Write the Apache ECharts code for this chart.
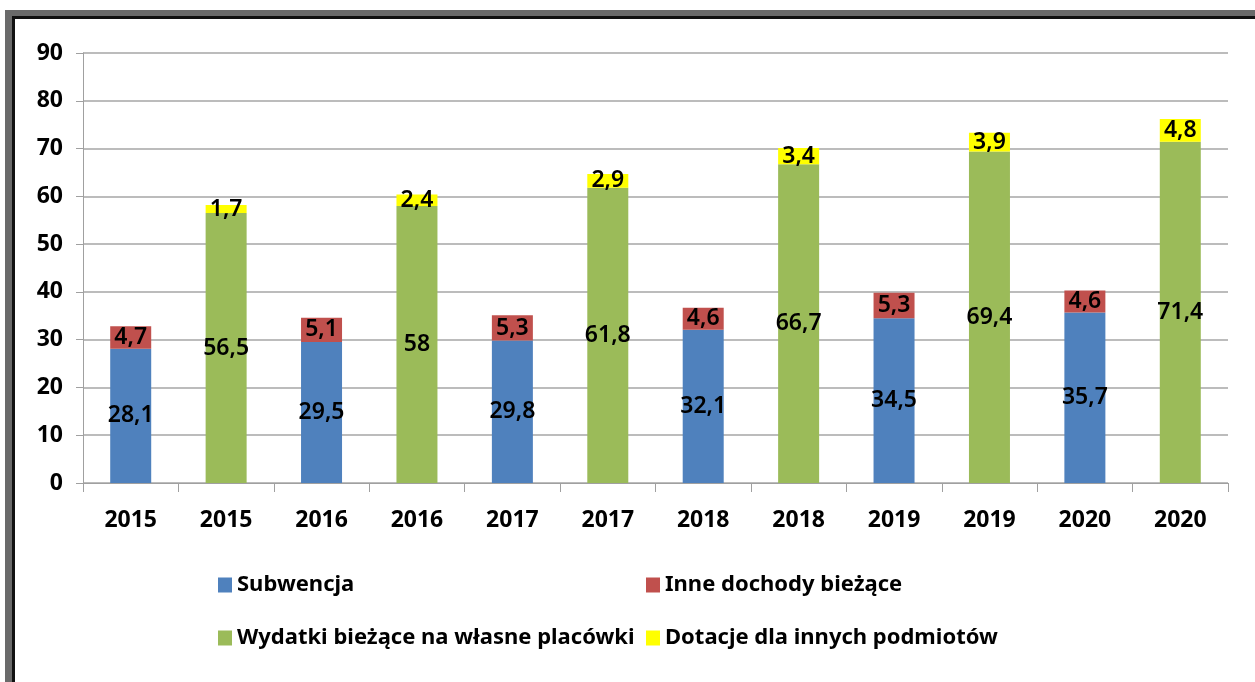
<!DOCTYPE html>
<html>
<head>
<meta charset="utf-8">
<script src="https://cdn.jsdelivr.net/npm/echarts@6/dist/echarts.min.js"></script>
<style>
html, body { margin: 0; padding: 0; background: #fff; overflow: hidden; }
#frame { position: absolute; left: 5px; top: 10px; width: 1270px; height: 668px;
  border-top: 6px solid #6a6a6a; border-left: 7px solid #6a6a6a; border-bottom: 2px solid #9a9a9a; }
#frameIn { position: absolute; left: 0; top: 0; right: 0; bottom: 0;
  border-top: 3px solid #111; border-left: 3px solid #111; }
#main { position: absolute; left: 0; top: 0; width: 1255px; height: 682px; }
</style>
</head>
<body>
<div id="frame"><div id="frameIn"></div></div>
<div id="main"></div>
<script>
var categories = ['2015', '2015', '2016', '2016', '2017', '2017', '2018', '2018', '2019', '2019', '2020', '2020'];
var subwencja = [28.1, 29.5, 29.8, 32.1, 34.5, 35.7];
var inneDochody = [4.7, 5.1, 5.3, 4.6, 5.3, 4.6];
var wydatki = [56.5, 58, 61.8, 66.7, 69.4, 71.4];
var dotacje = [1.7, 2.4, 2.9, 3.4, 3.9, 4.8];
var yTicks = [0, 10, 20, 30, 40, 50, 60, 70, 80, 90];

var font = '"Noto Sans", sans-serif';

// first pair goes on even slots, second pair on odd slots
function spread(vals, offset) {
    var out = [];
    for (var i = 0; i < categories.length; i++) out.push('-');
    vals.forEach(function (v, i) { out[i * 2 + offset] = v; });
    return out;
}

function bar(name, vals, offset, color) {
    return {
        name: name,
        type: 'bar',
        stack: 'all',
        barWidth: 41,
        data: spread(vals, offset),
        itemStyle: { color: color },
        label: {
            show: true,
            position: 'inside',
            color: '#000',
            fontFamily: font,
            fontSize: 23,
            fontWeight: 600,
            formatter: function (p) { return String(p.value).replace('.', ','); }
        }
    };
}

function legendItem(name, left, top) {
    return {
        data: [name],
        left: left,
        top: top,
        padding: 0,
        icon: 'rect',
        itemWidth: 14,
        itemHeight: 15,
        selectedMode: false,
        textStyle: { fontFamily: font, fontSize: 22, fontWeight: 'bold', color: '#000' }
    };
}

var myChart = echarts.init(document.getElementById('main'));
var option = {
    backgroundColor: 'transparent',
    animation: false,
    grid: { left: 83, right: 27, top: 53, bottom: 199 },
    xAxis: {
        type: 'category',
        data: categories,
        axisLine: { lineStyle: { color: '#a0a0a0', width: 1 } },
        axisTick: { show: true, length: 9, lineStyle: { color: '#a0a0a0' } },
        axisLabel: { color: '#000', fontFamily: font, fontSize: 23, fontWeight: 'bold', margin: 26 }
    },
    yAxis: {
        type: 'value',
        min: yTicks[0],
        max: yTicks[yTicks.length - 1],
        interval: 10,
        axisLine: { show: true, lineStyle: { color: '#a0a0a0', width: 1 } },
        axisTick: { show: true, length: 7, lineStyle: { color: '#a0a0a0' } },
        axisLabel: { color: '#000', fontFamily: font, fontSize: 23, fontWeight: 'bold', margin: 20 },
        splitLine: { lineStyle: { color: '#a6a6a6', width: 1.5 } }
    },
    legend: [
        legendItem('Subwencja', 218, 574),
        legendItem('Inne dochody bieżące', 646, 574),
        legendItem('Wydatki bieżące na własne placówki', 218, 627),
        legendItem('Dotacje dla innych podmiotów', 646, 627)
    ],
    series: [
        bar('Subwencja', subwencja, 0, '#4f81bd'),
        bar('Inne dochody bieżące', inneDochody, 0, '#c0504d'),
        bar('Wydatki bieżące na własne placówki', wydatki, 1, '#9bbb59'),
        bar('Dotacje dla innych podmiotów', dotacje, 1, '#ffff00')
    ]
};
myChart.setOption(option);
</script>
</body>
</html>
